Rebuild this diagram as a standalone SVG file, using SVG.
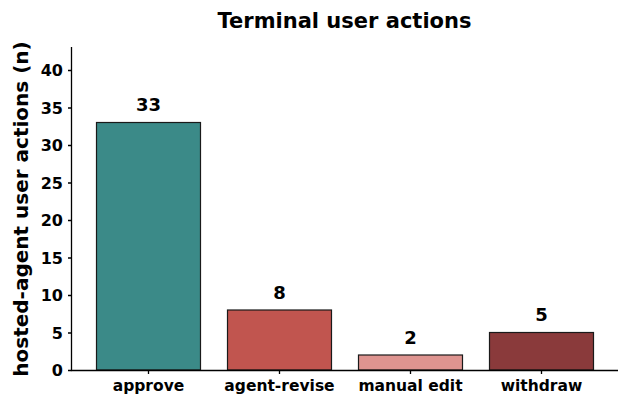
<svg xmlns="http://www.w3.org/2000/svg" width="621" height="397" viewBox="0 0 621 397">
<style>
text{font-family:"DejaVu Sans",sans-serif;font-weight:bold;fill:#000}
.tick{font-size:16px;text-anchor:end}
.xl{font-size:15.5px;text-anchor:middle}
.val{font-size:18px;text-anchor:middle}
.bar{stroke:#1a1a1a;stroke-width:1.2}
.ax{stroke:#000;stroke-width:1.3;fill:none}
</style>
<rect width="621" height="397" fill="#fff"/>
<text x="344.5" y="28" font-size="21" text-anchor="middle">Terminal user actions</text>
<text transform="translate(28,209) rotate(-90)" font-size="20" text-anchor="middle">hosted-agent user actions (n)</text>
<g id="bars">
<g id="approve"><rect class="bar" x="96.5" y="122.5" width="104" height="247.5" fill="#3b8a88"/><text class="val" x="148.5" y="111">33</text></g>
<g id="agent-revise"><rect class="bar" x="227.5" y="310" width="104" height="60" fill="#c1554f"/><text class="val" x="279.5" y="298.5">8</text></g>
<g id="manual-edit"><rect class="bar" x="358.5" y="355" width="104" height="15" fill="#de9490"/><text class="val" x="410.5" y="343.5">2</text></g>
<g id="withdraw"><rect class="bar" x="489.5" y="332.5" width="104" height="37.5" fill="#8a3a3b"/><text class="val" x="541.5" y="321">5</text></g>
</g>
<g id="axes">
<path class="ax" d="M71.5 47V370.5H618"/>
<path class="ax" d="M68 370.5H71.5M68 333H71.5M68 295.5H71.5M68 258H71.5M68 220.5H71.5M68 183H71.5M68 145.5H71.5M68 108H71.5M68 70.5H71.5M148.5 370.5V374M279.5 370.5V374M410.5 370.5V374M541.5 370.5V374"/>
<text class="tick" x="63" y="376">0</text>
<text class="tick" x="63" y="338.5">5</text>
<text class="tick" x="63" y="301">10</text>
<text class="tick" x="63" y="263.5">15</text>
<text class="tick" x="63" y="226">20</text>
<text class="tick" x="63" y="188.5">25</text>
<text class="tick" x="63" y="151">30</text>
<text class="tick" x="63" y="113.5">35</text>
<text class="tick" x="63" y="76">40</text>
<text class="xl" x="148.5" y="391">approve</text>
<text class="xl" x="279.5" y="391">agent-revise</text>
<text class="xl" x="410.5" y="391">manual edit</text>
<text class="xl" x="541.5" y="391">withdraw</text>
</g>
</svg>
